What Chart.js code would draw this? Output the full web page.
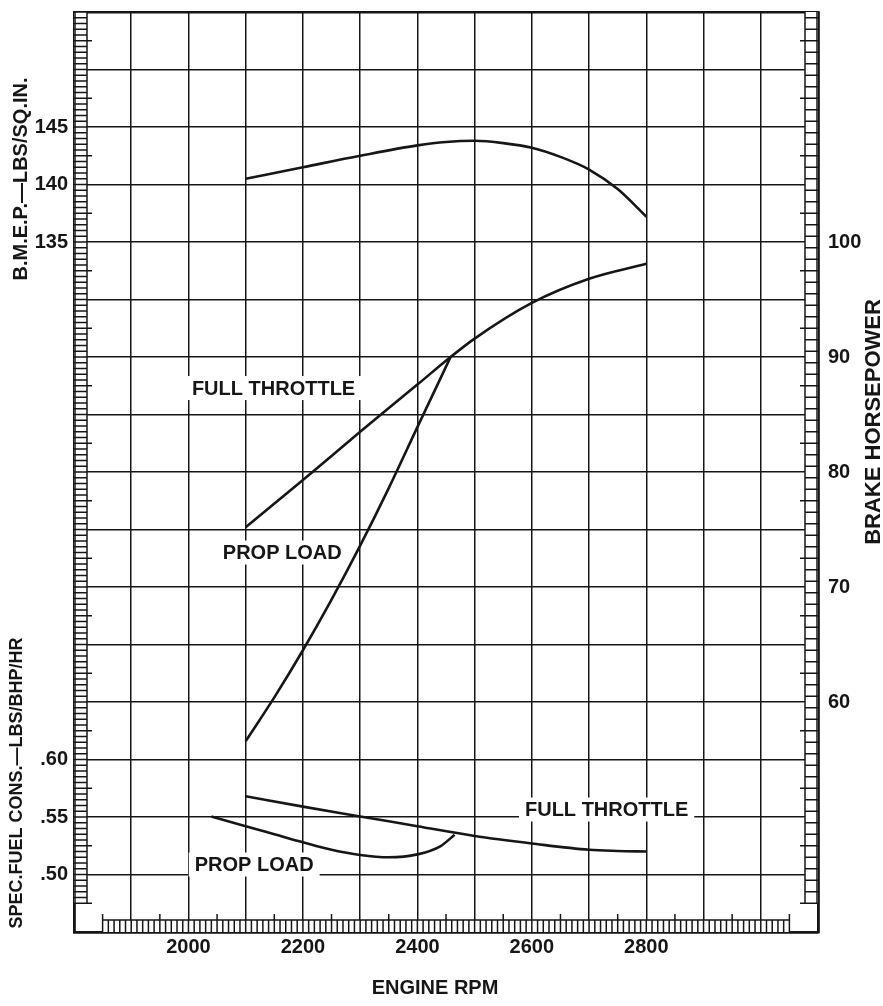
<!DOCTYPE html>
<html>
<head>
<meta charset="utf-8"/>
<title>Engine performance</title>
<style>
    body { margin: 0; background: #fff; }
    #chart { display: block; }
</style>
<script src="https://cdn.jsdelivr.net/npm/chart.js@4.4.1/dist/chart.umd.min.js"></script>
<script>
    // tick labels
    const rpmLabels = [2000, 2200, 2400, 2600, 2800];
    const bmepLabels = [135, 140, 145];
    const sfcLabels = [0.50, 0.55, 0.60];
    const hpLabels = [60, 70, 80, 90, 100];

    // B.M.E.P. at full throttle
    const bmepRpm = [2100, 2200, 2300, 2400, 2450, 2500, 2550, 2600, 2650, 2700, 2750, 2800];
    const bmepFull = [140.5, 141.5, 142.5, 143.4, 143.7, 143.8, 143.6, 143.2, 142.4, 141.3, 139.6, 137.2];

    // brake horsepower
    const hpFullRpm = [2100, 2200, 2300, 2400, 2458, 2500, 2600, 2700, 2800];
    const hpFull = [75.2, 79.3, 83.5, 87.6, 90.0, 91.6, 94.7, 96.8, 98.1];
    const hpPropRpm = [2100, 2150, 2200, 2250, 2300, 2350, 2400, 2458];
    const hpProp = [56.6, 60.4, 64.5, 68.9, 73.6, 78.6, 83.9, 90.0];

    // specific fuel consumption
    const sfcFullRpm = [2100, 2200, 2300, 2400, 2500, 2600, 2700, 2750, 2800];
    const sfcFull = [0.568, 0.559, 0.5505, 0.542, 0.5335, 0.527, 0.5215, 0.5205, 0.520];
    const sfcPropRpm = [2040, 2100, 2150, 2200, 2250, 2300, 2350, 2400, 2440, 2465];
    const sfcProp = [0.5505, 0.542, 0.535, 0.528, 0.5215, 0.517, 0.515, 0.5175, 0.5245, 0.5345];

    // curve captions (anchored in data units)
    const captions = [
        { text: 'FULL THROTTLE', rpm: 2006, value: 87.3, axis: 'yHp' },
        { text: 'PROP LOAD', rpm: 2060, value: 73.0, axis: 'yHp' },
        { text: 'FULL THROTTLE', rpm: 2588, value: 0.5565, axis: 'ySfc' },
        { text: 'PROP LOAD', rpm: 2011, value: 0.5087, axis: 'ySfc' },
    ];

    const INK = '#161616';
    const FAMILY = "'Liberation Sans', Arial, Helvetica, sans-serif";
    const FONT = { family: FAMILY, size: 20, weight: 'bold', lineHeight: 1.2 };

    const BMEP_MIN = 75, BMEP_MAX = 155;
    const SFC_MIN = 0.45, SFC_MAX = 1.25;

    function pts(xs, ys) {
        return xs.map((x, i) => ({ x: x, y: ys[i] }));
    }

    function curve(data, axis) {
        return {
            data: data,
            yAxisID: axis,
            borderColor: INK,
            borderWidth: 2.6,
            pointRadius: 0,
            fill: false,
            cubicInterpolationMode: 'monotone',
        };
    }

    function noPadding(s) {
        s.paddingTop = 0; s.paddingBottom = 0; s.paddingLeft = 0; s.paddingRight = 0;
    }

    function leftLabel(v) {
        if (bmepLabels.includes(v)) return String(v);
        const sfc = SFC_MIN + (v - BMEP_MIN) * (SFC_MAX - SFC_MIN) / (BMEP_MAX - BMEP_MIN);
        if (sfcLabels.some(s => Math.abs(s - sfc) < 0.001)) return sfc.toFixed(2).replace(/^0/, '');
        return '';
    }

    // ruler strips, caption boxes and axis titles
    const paperPlugin = {
        id: 'paper',
        beforeDatasetsDraw(chart) {
            const ctx = chart.ctx, a = chart.chartArea;
            const sx = chart.scales.x, sb = chart.scales.yBmep, sh = chart.scales.yHp;
            ctx.save();
            ctx.strokeStyle = INK;
            ctx.fillStyle = '#fff';
            ctx.lineWidth = 1.5;

            // left ruler
            const lb = sb.getPixelForValue(77.5);
            ctx.fillRect(a.left, a.top, 13, lb - a.top);
            ctx.beginPath();
            ctx.moveTo(a.left + 1, a.top); ctx.lineTo(a.left + 1, lb);
            ctx.moveTo(a.left + 13, a.top); ctx.lineTo(a.left + 13, lb);
            for (let v = 77.5; v <= 155; v += 0.5) {
                const y = sb.getPixelForValue(v);
                const half = Math.abs(((v - 2.5) % 5)) < 0.01;
                ctx.moveTo(a.left, y); ctx.lineTo(a.left + (half ? 18 : 13), y);
            }
            ctx.stroke();

            // right ruler
            const rb = sh.getPixelForValue(42.5);
            ctx.fillRect(a.right - 13, a.top, 13, rb - a.top);
            ctx.beginPath();
            ctx.moveTo(a.right - 13, a.top); ctx.lineTo(a.right - 13, rb);
            ctx.moveTo(a.right - 1, a.top); ctx.lineTo(a.right - 1, rb);
            for (let v = 42.5; v <= 120; v += 1) {
                const y = sh.getPixelForValue(v);
                const half = Math.abs(((v - 2.5) % 5)) < 0.01;
                ctx.moveTo(a.right - (half ? 18 : 13), y); ctx.lineTo(a.right, y);
            }
            ctx.stroke();

            // bottom ruler
            const x0 = sx.getPixelForValue(1850), x1 = sx.getPixelForValue(3050);
            ctx.fillRect(x0, a.bottom - 12, x1 - x0, 12);
            ctx.beginPath();
            ctx.moveTo(x0, a.bottom - 12); ctx.lineTo(x1, a.bottom - 12);
            for (let v = 1850; v <= 3050; v += 10) {
                const x = sx.getPixelForValue(v);
                const half = (v - 50) % 100 === 0;
                ctx.moveTo(x, a.bottom); ctx.lineTo(x, a.bottom - (half ? 18 : 12));
            }
            ctx.stroke();

            // captions on white boxes
            ctx.font = 'bold 20px ' + FAMILY;
            ctx.textBaseline = 'middle';
            ctx.textAlign = 'left';
            captions.forEach(c => {
                const x = sx.getPixelForValue(c.rpm);
                const y = chart.scales[c.axis].getPixelForValue(c.value);
                const w = ctx.measureText(c.text).width;
                ctx.fillStyle = '#fff';
                ctx.fillRect(x - 6, y - 12, w + 12, 24);
                ctx.fillStyle = INK;
                ctx.fillText(c.text, x, y + 1);
            });
            ctx.restore();
        },
        afterDraw(chart) {
            const ctx = chart.ctx;
            ctx.save();
            ctx.fillStyle = INK;
            ctx.textBaseline = 'middle';
            ctx.textAlign = 'center';
            ctx.font = 'bold 20px ' + FAMILY;
            ctx.fillText('ENGINE RPM', 435, 988);

            const vtext = (t, x, y, size) => {
                ctx.save();
                ctx.font = 'bold ' + size + 'px ' + FAMILY;
                ctx.translate(x, y);
                ctx.rotate(-Math.PI / 2);
                ctx.fillText(t, 0, 0);
                ctx.restore();
            };
            vtext('B.M.E.P.\u2014LBS/SQ.IN.', 21, 179, 20);
            vtext('SPEC.FUEL CONS.\u2014LBS/BHP/HR', 17, 783, 18);
            vtext('BRAKE HORSEPOWER', 874, 422, 22);
            ctx.restore();
        }
    };

    var _chart = null;

    function onStart() {
        const canvas = document.getElementById('chart').getContext('2d');
        const edge = (c, lo, hi) => (c.tick && (c.tick.value === lo || c.tick.value === hi)) ? 2.6 : 1.5;

        _chart = new Chart(canvas, {
            type: 'line',
            data: {
                datasets: [
                    curve(pts(bmepRpm, bmepFull), 'yBmep'),
                    curve(pts(hpFullRpm, hpFull), 'yHp'),
                    curve(pts(hpPropRpm, hpProp), 'yHp'),
                    curve(pts(sfcFullRpm, sfcFull), 'ySfc'),
                    curve(pts(sfcPropRpm, sfcProp), 'ySfc'),
                ],
            },
            options: {
                responsive: false,
                animation: false,
                events: [],
                layout: { padding: { top: 12, left: 0, right: 0, bottom: 0 } },
                plugins: {
                    legend: { display: false },
                    tooltip: { enabled: false },
                    title: { display: false },
                },
                scales: {
                    x: {
                        type: 'linear',
                        position: 'bottom',
                        min: 1800,
                        max: 3100,
                        afterBuildTicks: s => {
                            s.ticks = [];
                            for (let v = 1800; v <= 3100; v += 100) s.ticks.push({ value: v });
                        },
                        afterFit: s => { s.height = 74; noPadding(s); },
                        grid: { color: INK, lineWidth: c => edge(c, 1800, 3100), drawTicks: false },
                        border: { display: true, color: INK, width: 2.6 },
                        ticks: {
                            autoSkip: false, maxRotation: 0, padding: 3, color: INK, font: FONT,
                            callback: v => rpmLabels.includes(v) ? String(v) : '',
                        },
                    },
                    yBmep: {
                        type: 'linear',
                        position: 'left',
                        min: BMEP_MIN,
                        max: BMEP_MAX,
                        afterBuildTicks: s => {
                            s.ticks = [];
                            for (let v = BMEP_MIN; v <= BMEP_MAX; v += 5) s.ticks.push({ value: v });
                        },
                        afterFit: s => { s.width = 74; noPadding(s); },
                        grid: { color: INK, lineWidth: c => edge(c, BMEP_MIN, BMEP_MAX), drawTicks: false },
                        border: { display: true, color: INK, width: 2.6 },
                        ticks: { autoSkip: false, padding: 6, color: INK, font: FONT, callback: leftLabel },
                    },
                    yHp: {
                        type: 'linear',
                        position: 'right',
                        min: 40,
                        max: 120,
                        afterBuildTicks: s => { s.ticks = hpLabels.map(v => ({ value: v })); },
                        afterFit: s => { s.width = 65; noPadding(s); },
                        grid: { display: false, drawTicks: false },
                        border: { display: true, color: INK, width: 2.6 },
                        ticks: { autoSkip: false, padding: 10, color: INK, font: FONT },
                    },
                    ySfc: {
                        type: 'linear',
                        display: false,
                        min: SFC_MIN,
                        max: SFC_MAX,
                    },
                },
            },
            plugins: [paperPlugin],
        });
    }
</script>
</head>
<body onload="onStart();">
<canvas id="chart" width="883" height="1006"></canvas>
</body>
</html>
